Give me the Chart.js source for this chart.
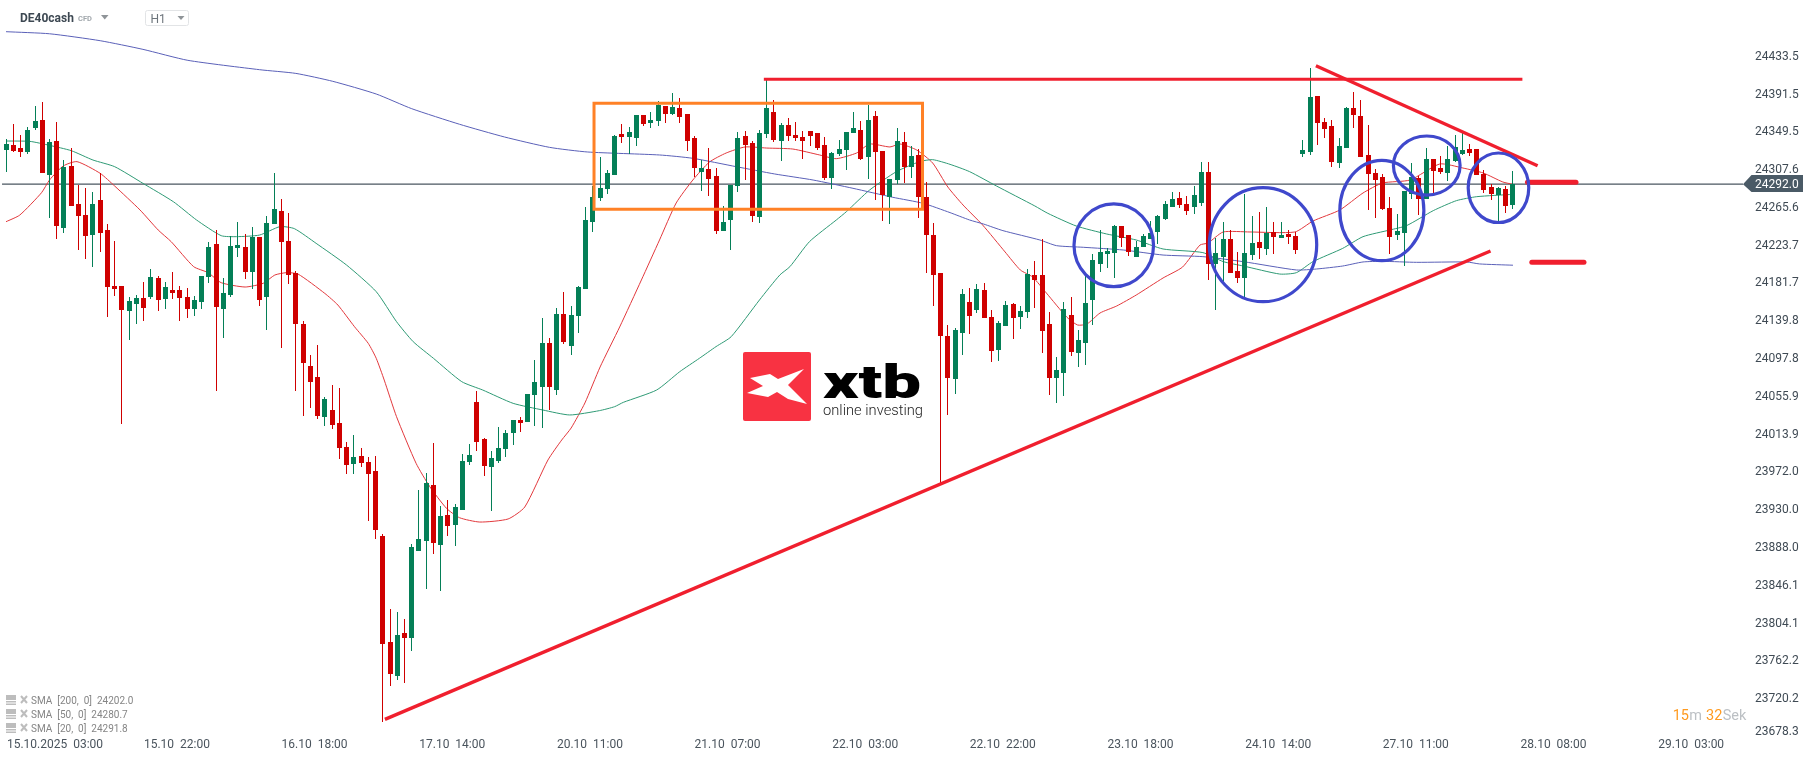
<!DOCTYPE html>
<html>
<head>
<meta charset="utf-8">
<title>DE40cash H1</title>
<script src="https://cdn.jsdelivr.net/npm/chart.js@4/dist/chart.umd.min.js"></script>
<style>
    html, body { margin: 0; padding: 0; background: #fff; }
    canvas { display: block; }
</style>
</head>
<body>
<canvas id="chart" width="1815" height="761"></canvas>
<script>
// hourly bars
const opens = [
    24330, 24336, 24332, 24328, 24354, 24363, 24302, 24340, 24243, 24312,
    24270, 24258, 24236, 24274, 24241, 24179, 24179, 24151, 24159, 24166,
    24167, 24188, 24165, 24174, 24174, 24167, 24153, 24161, 24189, 24226,
    24153, 24169, 24221, 24222, 24194, 24233, 24167, 24248, 24262, 24229,
    24193, 24137, 24090, 24078, 24033, 24041, 24027, 24000, 23981, 23990,
    23983, 23973, 23901, 23784, 23746, 23794, 23788, 23885, 23896, 23958,
    23891, 23925, 23914, 23930, 23984, 24050, 24009, 23978, 23985, 23998,
    24016, 24030, 24028, 24058, 24067, 24116, 24063, 24148, 24112, 24146,
    24176, 24250, 24277, 24287, 24302, 24348, 24344, 24343, 24369, 24360,
    24362, 24379, 24370, 24377, 24370, 24343, 24306, 24309, 24301, 24240,
    24252, 24290, 24346, 24338, 24256, 24348, 24372, 24340, 24358, 24347,
    24344, 24351, 24349, 24336, 24299, 24326, 24330, 24349, 24352, 24322,
    24368, 24329, 24278, 24297, 24339, 24311, 24324, 24278, 24236, 24193,
    24123, 24076, 24127, 24161, 24152, 24175, 24145, 24108, 24135, 24159,
    24145, 24150, 24191, 24191, 24137, 24077, 24082, 24147, 24105, 24116,
    24163, 24203, 24215, 24216, 24246, 24236, 24211, 24222, 24231, 24239,
    24253, 24267, 24277, 24270, 24267, 24271, 24306, 24203, 24211, 24231,
    24196, 24188, 24213, 24228, 24220, 24239, 24232, 24237, 24234, 24326,
    24328, 24390, 24361, 24357, 24316, 24332, 24377, 24368, 24324, 24304,
    24300, 24266, 24236, 24238, 24281, 24299, 24276, 24320, 24310, 24304,
    24318, 24326, 24331, 24331, 24303, 24289, 24280, 24287, 24269
]
const highs = [
    24342, 24359, 24347, 24355, 24379, 24383, 24342, 24361, 24319, 24332,
    24291, 24288, 24283, 24304, 24248, 24229, 24179, 24167, 24169, 24183,
    24198, 24190, 24183, 24194, 24179, 24177, 24168, 24190, 24228, 24241,
    24188, 24234, 24250, 24237, 24244, 24233, 24257, 24304, 24276, 24260,
    24196, 24140, 24102, 24113, 24056, 24069, 24066, 24006, 24013, 23999,
    23989, 23990, 23904, 23820, 23817, 23809, 23892, 23952, 23971, 24005,
    23935, 23941, 23937, 23992, 24004, 24062, 24010, 23996, 24022, 24019,
    24030, 24033, 24059, 24097, 24143, 24121, 24155, 24172, 24157, 24179,
    24267, 24290, 24322, 24308, 24347, 24359, 24356, 24369, 24369, 24372,
    24384, 24379, 24393, 24388, 24370, 24346, 24319, 24332, 24310, 24268,
    24291, 24350, 24351, 24340, 24352, 24408, 24386, 24360, 24366, 24361,
    24351, 24351, 24349, 24344, 24328, 24341, 24350, 24372, 24362, 24380,
    24373, 24329, 24298, 24354, 24350, 24334, 24331, 24294, 24249, 24193,
    24136, 24132, 24176, 24177, 24181, 24182, 24152, 24140, 24162, 24160,
    24157, 24198, 24207, 24231, 24150, 24100, 24161, 24167, 24130, 24193,
    24215, 24241, 24221, 24247, 24246, 24236, 24229, 24237, 24251, 24258,
    24273, 24283, 24283, 24279, 24290, 24317, 24317, 24232, 24250, 24241,
    24217, 24281, 24257, 24261, 24267, 24250, 24250, 24241, 24239, 24341,
    24421, 24390, 24366, 24363, 24343, 24378, 24394, 24386, 24358, 24309,
    24303, 24278, 24259, 24284, 24316, 24301, 24332, 24320, 24323, 24334,
    24347, 24349, 24337, 24331, 24308, 24292, 24289, 24290, 24307
]
const lows = [
    24305, 24328, 24322, 24326, 24352, 24304, 24254, 24231, 24238, 24268,
    24219, 24209, 24200, 24217, 24145, 24168, 24026, 24119, 24137, 24140,
    24165, 24151, 24153, 24165, 24140, 24143, 24146, 24153, 24182, 24062,
    24121, 24167, 24211, 24187, 24176, 24157, 24130, 24248, 24110, 24181,
    24062, 24035, 24043, 24031, 24024, 24020, 23987, 23970, 23970, 23978,
    23918, 23898, 23695, 23735, 23741, 23738, 23774, 23885, 23842, 23881,
    23840, 23901, 23890, 23930, 23980, 23996, 23968, 23929, 23982, 23989,
    24002, 24017, 24028, 24023, 24021, 24041, 24058, 24115, 24102, 24127,
    24176, 24239, 24273, 24281, 24302, 24338, 24326, 24334, 24357, 24354,
    24357, 24360, 24369, 24360, 24329, 24300, 24284, 24279, 24237, 24240,
    24219, 24283, 24297, 24250, 24249, 24343, 24339, 24318, 24340, 24340,
    24320, 24334, 24330, 24297, 24287, 24323, 24308, 24349, 24319, 24298,
    24274, 24251, 24248, 24292, 24293, 24299, 24254, 24193, 24157, 23960,
    24036, 24059, 24102, 24126, 24149, 24143, 24095, 24096, 24135, 24120,
    24131, 24143, 24155, 24105, 24058, 24049, 24057, 24101, 24089, 24091,
    24136, 24195, 24199, 24188, 24222, 24212, 24211, 24222, 24231, 24226,
    24252, 24267, 24266, 24258, 24259, 24268, 24186, 24152, 24180, 24193,
    24182, 24166, 24208, 24209, 24213, 24215, 24232, 24226, 24215, 24322,
    24324, 24336, 24343, 24311, 24310, 24332, 24354, 24322, 24263, 24254,
    24263, 24215, 24230, 24201, 24276, 24258, 24276, 24282, 24303, 24296,
    24317, 24324, 24323, 24302, 24282, 24274, 24250, 24260, 24264
]
const closes = [
    24337, 24329, 24328, 24352, 24362, 24304, 24339, 24246, 24311, 24268,
    24257, 24234, 24270, 24238, 24178, 24176, 24152, 24162, 24166, 24155,
    24189, 24163, 24178, 24171, 24166, 24153, 24163, 24190, 24222, 24156,
    24171, 24223, 24224, 24194, 24233, 24163, 24249, 24264, 24228, 24191,
    24137, 24093, 24072, 24035, 24053, 24025, 23999, 23980, 23989, 23982,
    23970, 23908, 23781, 23748, 23791, 23788, 23889, 23898, 23960, 23894,
    23924, 23912, 23934, 23985, 23991, 24006, 23979, 23988, 23999, 24016,
    24030, 24027, 24059, 24072, 24116, 24067, 24148, 24117, 24147, 24178,
    24252, 24278, 24288, 24304, 24346, 24344, 24350, 24369, 24359, 24363,
    24380, 24370, 24378, 24367, 24340, 24310, 24310, 24298, 24240, 24250,
    24291, 24343, 24336, 24257, 24349, 24377, 24341, 24358, 24346, 24343,
    24340, 24346, 24332, 24299, 24327, 24331, 24350, 24354, 24320, 24363,
    24328, 24280, 24298, 24340, 24311, 24323, 24278, 24235, 24191, 24123,
    24077, 24130, 24170, 24146, 24176, 24143, 24107, 24138, 24158, 24143,
    24151, 24192, 24186, 24129, 24077, 24086, 24153, 24106, 24119, 24160,
    24208, 24217, 24218, 24246, 24232, 24217, 24222, 24234, 24238, 24257,
    24270, 24276, 24269, 24262, 24280, 24306, 24203, 24216, 24231, 24193,
    24188, 24216, 24227, 24221, 24238, 24233, 24236, 24233, 24219, 24330,
    24389, 24360, 24353, 24317, 24334, 24377, 24369, 24322, 24303, 24297,
    24264, 24233, 24240, 24284, 24300, 24276, 24320, 24307, 24306, 24320,
    24333, 24330, 24327, 24302, 24286, 24281, 24288, 24268, 24292
]

// moving averages, read at the bars where the curve bends
const sma200Bars = [0, 6, 13, 18.9, 25.1, 35, 40, 45.1, 51.1, 56, 62.6, 68.8, 75, 80.3, 90.2, 94.8, 100.8, 106.1, 111.4, 116.9, 122.4, 126.6, 130.3, 133, 134.9, 137.6, 142.7, 145, 148.7, 154.2, 159.7, 165.2, 170.8, 178.1, 180.9, 184.5, 187.3, 190, 194.7, 201.6, 203.4, 208]
const sma200Values = [24461.3, 24459, 24451.3, 24441.7, 24429.5, 24419.1, 24415, 24406.2, 24392.1, 24375.8, 24358.5, 24344.4, 24332.9, 24327.7, 24324.4, 24320.7, 24311.4, 24303.3, 24296.6, 24287.4, 24277.4, 24270.7, 24260.4, 24252.2, 24247.8, 24240.4, 24230, 24223.7, 24221.9, 24218.9, 24213.3, 24211.5, 24205.9, 24196.7, 24197.8, 24201.1, 24205.6, 24206.3, 24205.2, 24205.6, 24203.4, 24202]

const sma50Bars = [0, 3.3, 6, 9, 12, 15, 18.9, 23.1, 26.3, 29.7, 31.8, 35, 37.8, 39.8, 42.8, 47, 51.1, 53.9, 56.2, 59, 62.9, 65.8, 70, 74.1, 77.8, 81.9, 84, 85.2, 89.8, 93, 95.7, 98, 100.1, 104, 106.8, 108.2, 110.9, 114.6, 116, 119.2, 122.9, 126.1, 127.9, 130.3, 133, 136.7, 142, 143.8, 147.7, 151.9, 156, 159.7, 165.2, 168, 170.8, 175.8, 178.1, 180.4, 184.5, 187.3, 191, 193.3, 197, 200.2, 203, 208]
const sma50Values = [24339.9, 24339.5, 24335.1, 24329.2, 24318.8, 24311.4, 24292.9, 24272.5, 24252.2, 24234.8, 24233.7, 24235.5, 24244.8, 24242.6, 24226.3, 24202.2, 24172.6, 24139.3, 24117.1, 24098.6, 24072.7, 24063.4, 24048.6, 24041.2, 24035.7, 24040.5, 24044.9, 24049.7, 24063.4, 24083.8, 24098.6, 24111.6, 24122.7, 24163.4, 24191.1, 24200.4, 24228.2, 24252.2, 24261.5, 24285.5, 24305.9, 24317, 24319.2, 24314, 24305.9, 24290, 24267.8, 24259.6, 24245.6, 24236.7, 24230, 24220, 24216, 24206, 24201.1, 24192.2, 24193.7, 24206, 24220.7, 24233.7, 24241.1, 24245.9, 24262.6, 24273.7, 24278.1, 24280.7]

const sma20Bars = [0, 1.9, 4.9, 6, 7.9, 9.8, 13, 15, 18.5, 21, 22.8, 25.9, 27.9, 29.7, 33, 35.5, 37.1, 38.7, 40.3, 44, 45.8, 48.1, 50, 51.1, 52.2, 53.9, 56.6, 58.5, 60.8, 62.6, 65.4, 69.3, 71.6, 74.8, 76.7, 78, 79.9, 82, 84.7, 87.7, 90.2, 92.5, 94.8, 97.1, 99.4, 102, 105, 108.6, 112.3, 114.6, 117.4, 119.2, 122, 123.4, 125.7, 127.9, 130, 132.1, 134.8, 137.9, 140, 141.7, 143.6, 146.4, 147.9, 149.2, 151, 153.3, 156, 159.7, 162.4, 164.8, 165.9, 168, 171.7, 177.9, 180.4, 184.1, 187.3, 190, 193.8, 197.9, 201.1, 203.9, 206.6, 208]
const sma20Values = [24250.3, 24257.7, 24282.5, 24296.6, 24312.2, 24317, 24304, 24289.9, 24263.3, 24241.1, 24228.1, 24200.4, 24193.7, 24182.6, 24177.8, 24181.9, 24191.1, 24193.7, 24192.2, 24170.7, 24157.8, 24133.7, 24115.2, 24098.6, 24074.5, 24033.8, 23982, 23956, 23932, 23921.6, 23916.8, 23920.2, 23933.5, 23985.7, 24007.9, 24021.2, 24049, 24089, 24133.4, 24185.6, 24230, 24271.1, 24296.6, 24316.6, 24326.6, 24333.3, 24332.1, 24331, 24324.4, 24320.3, 24326.6, 24336.6, 24333.3, 24336.6, 24329.9, 24315.5, 24288.8, 24268.8, 24246.6, 24216.7, 24196.7, 24188.9, 24171.1, 24144.5, 24135.6, 24136.7, 24148.9, 24156.7, 24168.9, 24187.8, 24200, 24224.4, 24226.6, 24238.9, 24238.9, 24238.9, 24251.1, 24263.3, 24282.2, 24293.3, 24296.6, 24314.4, 24309.9, 24304.4, 24294.4, 24291.8]

const lastPrice = 24292.0

// axis labels
const yTicks = [24433.5, 24391.5, 24349.5, 24307.6, 24265.6, 24223.7, 24181.7, 24139.8, 24097.8, 24055.9, 24013.9, 23972.0, 23930.0, 23888.0, 23846.1, 23804.1, 23762.2, 23720.2]
const yBottomLabel = "23678.3"
const xTickBars = [6.76, 23.59, 42.59, 61.59, 80.59, 99.59, 118.59, 137.59, 156.59, 175.59, 194.59, 213.59, 232.59]
const xTickLabels = ["15.10.2025  03:00", "15.10  22:00", "16.10  18:00", "17.10  14:00", "20.10  11:00", "21.10  07:00", "22.10  03:00", "22.10  22:00", "23.10  18:00", "24.10  14:00", "27.10  11:00", "28.10  08:00", "29.10  03:00"]
const legendRows = ["SMA  [200,  0]  24202.0", "SMA  [50,  0]  24280.7", "SMA  [20,  0]  24291.8"]

// drawings on top of the chart, in bars and prices
const boxBars = [81.16, 126.5, 126.5, 81.16, 81.16]
const boxPrices = [24381.8, 24381.8, 24264.1, 24264.1, 24381.8]
const resistanceBars = [104.6, 209.3]
const resistancePrices = [24408.4, 24408.4]
const risingBars = [52.3, 204.9]
const risingPrices = [23697.7, 24217.8]
const fallingBars = [180.8, 211.4]
const fallingPrices = [24423.5, 24312.5]
const stubHighBars = [210, 216.7]
const stubHighPrices = [24294, 24294]
const stubLowBars = [210.6, 217.8]
const stubLowPrices = [24205.2, 24205.2]
const circleBars = [152.9, 173.5, 189.9, 196.1, 206]
const circlePrices = [24224.1, 24224.8, 24262.7, 24312.7, 24288]
const circleBarRadius = [5.49, 7.41, 5.8, 4.6, 4.18]
const circlePriceRadius = [45.9, 63.3, 55.7, 32.8, 38.6]

const GREEN = "#047f57"
const RED = "#cf0000"
const FONT = "Roboto, sans-serif"

const zip = (xs, ys) => xs.map((x, i) => ({ x: x, y: ys[i] }))
const bars = opens.map((_, i) => i)
const candleColors = bars.map((i) => (closes[i] >= opens[i] ? GREEN : RED))

const lineSet = (xs, ys, color, width, order, extra) => ({
    type: "line",
    data: zip(xs, ys),
    borderColor: color,
    borderWidth: width,
    pointRadius: 0,
    order: order,
    ...extra,
})

// the edge labels must not shrink the plot area
const fixAxis = (scale, size) => {
    if (scale.axis === "x") scale.height = size
    else scale.width = size
    scale.paddingLeft = 0
    scale.paddingRight = 0
    scale.paddingTop = 0
    scale.paddingBottom = 0
}

// keep candles on whole pixels, the original has no blur on them
const snapCandles = {
    id: "snapCandles",
    beforeDatasetsDraw(chart) {
        chart.data.datasets.forEach((ds, index) => {
            if (ds.type !== "bar") return
            chart.getDatasetMeta(index).data.forEach((el) => {
                el.x = Math.floor(el.x) + 0.5
                el.y = Math.round(el.y)
                el.base = Math.round(el.base)
            })
        })
    },
}

const text = (ctx, str, x, y, font, color, maxWidth) => {
    ctx.font = font
    ctx.fillStyle = color
    ctx.textBaseline = "middle"
    ctx.textAlign = "left"
    if (maxWidth) ctx.fillText(str, x, y, maxWidth)
    else ctx.fillText(str, x, y)
}

const triangle = (ctx, x0, x1, y0, y1, color) => {
    ctx.fillStyle = color
    ctx.beginPath()
    ctx.moveTo(x0, y0)
    ctx.lineTo(x1, y0)
    ctx.lineTo((x0 + x1) / 2, y1)
    ctx.closePath()
    ctx.fill()
}

const overlays = {
    id: "overlays",
    afterDraw(chart) {
        const { ctx, scales } = chart
        ctx.save()

        // circles
        ctx.strokeStyle = "#3f48cc"
        ctx.lineWidth = 3.2
        circleBars.forEach((bar, i) => {
            const cx = scales.x.getPixelForValue(bar)
            const cy = scales.y.getPixelForValue(circlePrices[i])
            const rx = scales.x.getPixelForValue(bar + circleBarRadius[i]) - cx
            const ry = cy - scales.y.getPixelForValue(circlePrices[i] + circlePriceRadius[i])
            ctx.beginPath()
            ctx.ellipse(cx, cy, rx, ry, 0, 0, Math.PI * 2)
            ctx.stroke()
        })

        // instrument header
        text(ctx, "DE40cash", 20, 19, `bold 12px ${FONT}`, "#3d4852")
        text(ctx, "CFD", 78, 19.5, `bold 7.5px ${FONT}`, "#a2a8ad")
        triangle(ctx, 101, 108.5, 15, 19.5, "#8f9498")
        ctx.strokeStyle = "#e2e4e6"
        ctx.lineWidth = 1
        ctx.beginPath()
        ctx.roundRect(145.5, 10.5, 43, 15, 2)
        ctx.stroke()
        text(ctx, "H1", 150.5, 20, `12px ${FONT}`, "#6d757c")
        triangle(ctx, 177.5, 184.5, 16, 20, "#8f9498")

        // indicator legend
        legendRows.forEach((row, i) => {
            const y = 701 + i * 14
            ctx.fillStyle = "#bdbdbd"
            ctx.fillRect(6, y - 6, 10, 5)
            ctx.fillRect(6, y, 10, 1.5)
            ctx.fillRect(6, y + 2.5, 10, 1.5)
            ctx.strokeStyle = "#bdbdbd"
            ctx.lineWidth = 2
            ctx.beginPath()
            ctx.moveTo(21, y - 5)
            ctx.lineTo(27, y + 2)
            ctx.moveTo(27, y - 5)
            ctx.lineTo(21, y + 2)
            ctx.stroke()
            text(ctx, row, 31, y + 0.5, `10px ${FONT}`, "#858585")
        })

        // last price tag
        const lastY = scales.y.getPixelForValue(lastPrice)
        ctx.fillStyle = "#4a5a66"
        ctx.beginPath()
        ctx.moveTo(1743, lastY)
        ctx.lineTo(1751.5, 175)
        ctx.lineTo(1803, 175)
        ctx.lineTo(1803, 192)
        ctx.lineTo(1751.5, 192)
        ctx.closePath()
        ctx.fill()
        text(ctx, lastPrice.toFixed(1), 1755, 184.5, `12px ${FONT}`, "#ffffff")
        text(ctx, yBottomLabel, 1755, 732, `12px ${FONT}`, "#3f4a54")

        // candle countdown
        text(ctx, "15", 1672.7, 716.5, `14.5px ${FONT}`, "#ff9a1f")
        text(ctx, "m", 1689.3, 716.5, `14.5px ${FONT}`, "#bcc0c4")
        text(ctx, "32", 1706, 716.5, `14.5px ${FONT}`, "#ff9a1f")
        text(ctx, "Sek", 1722.7, 716.5, `14.5px ${FONT}`, "#bcc0c4")

        // watermark
        ctx.fillStyle = "#f83242"
        ctx.beginPath()
        ctx.roundRect(743, 352, 68, 69, 2)
        ctx.fill()
        ctx.fillStyle = "#ffffff"
        ctx.beginPath()
        ctx.moveTo(750, 378)
        ctx.lineTo(770, 374)
        ctx.lineTo(778, 379)
        ctx.lineTo(804, 369)
        ctx.lineTo(788, 385)
        ctx.lineTo(807, 404)
        ctx.lineTo(788, 399)
        ctx.lineTo(777, 392)
        ctx.lineTo(768, 397)
        ctx.lineTo(747, 393)
        ctx.lineTo(763, 386)
        ctx.closePath()
        ctx.fill()
        // the logo lettering is much wider than any installed font
        ctx.save()
        ctx.translate(823, 398)
        ctx.scale(1.5, 1)
        ctx.font = `900 46px ${FONT}`
        ctx.fillStyle = "#000000"
        ctx.textBaseline = "alphabetic"
        ctx.textAlign = "left"
        ctx.fillText("xtb", 0, 0)
        ctx.restore()
        text(ctx, "online investing", 823, 411, `300 15.5px ${FONT}`, "#222222", 100)

        ctx.restore()
    },
}

new Chart(document.getElementById("chart"), {
    data: {
        datasets: [
            {
                type: "bar",
                data: bars.map((i) => ({ x: i, y: [lows[i], highs[i]] })),
                backgroundColor: candleColors,
                barThickness: 1,
                inflateAmount: 0,
                grouped: false,
                order: 7,
            },
            {
                type: "bar",
                data: bars.map((i) => ({ x: i, y: [opens[i], closes[i]] })),
                backgroundColor: candleColors,
                barThickness: 5,
                inflateAmount: 0,
                grouped: false,
                order: 6,
            },
            lineSet([-0.55, 239.75], [lastPrice, lastPrice], "#4a5660", 1.2, 9),
            lineSet(sma200Bars, sma200Values, "#5a60b8", 1, 8, { tension: 0.2 }),
            lineSet(sma50Bars, sma50Values, "#2f9a75", 1, 8, { tension: 0.2 }),
            lineSet(sma20Bars, sma20Values, "#e2383c", 1, 8, { tension: 0.2 }),
            lineSet(boxBars, boxPrices, "#ff8126", 3, 2, { borderJoinStyle: "miter", borderCapStyle: "square" }),
            lineSet(resistanceBars, resistancePrices, "#f01f2e", 3, 1),
            lineSet(risingBars, risingPrices, "#f01f2e", 3.4, 1),
            lineSet(fallingBars, fallingPrices, "#f01f2e", 3.4, 1),
            lineSet(stubHighBars, stubHighPrices, "#f01f2e", 5, 1, { borderCapStyle: "round" }),
            lineSet(stubLowBars, stubLowPrices, "#f01f2e", 5, 1, { borderCapStyle: "round" }),
        ],
    },
    options: {
        responsive: false,
        animation: false,
        events: [],
        layout: { padding: 0 },
        plugins: {
            legend: false,
            title: { display: false },
            tooltip: { enabled: false },
        },
        scales: {
            x: {
                type: "linear",
                min: -0.831,
                max: 239.75,
                offset: false,
                afterFit: (scale) => fixAxis(scale, 24),
                afterBuildTicks: (scale) => {
                    scale.ticks = xTickBars.map((value) => ({ value: value }))
                },
                grid: { display: false, drawTicks: false, offset: false },
                border: { display: false },
                ticks: {
                    autoSkip: false,
                    maxRotation: 0,
                    padding: 1,
                    color: "#4a545d",
                    font: { family: "Roboto", size: 12 },
                    callback: (value, index) => xTickLabels[index],
                },
            },
            y: {
                type: "linear",
                position: "right",
                min: 23678.1,
                max: 24496.5,
                afterFit: (scale) => fixAxis(scale, 72),
                afterBuildTicks: (scale) => {
                    scale.ticks = yTicks.map((value) => ({ value: value }))
                },
                grid: { display: false, drawTicks: false },
                border: { display: false },
                ticks: {
                    autoSkip: false,
                    padding: 12,
                    color: "#3f4a54",
                    font: { family: "Roboto", size: 12 },
                    callback: (value) => value.toFixed(1),
                },
            },
        },
    },
    plugins: [snapCandles, overlays],
})
</script>
</body>
</html>
